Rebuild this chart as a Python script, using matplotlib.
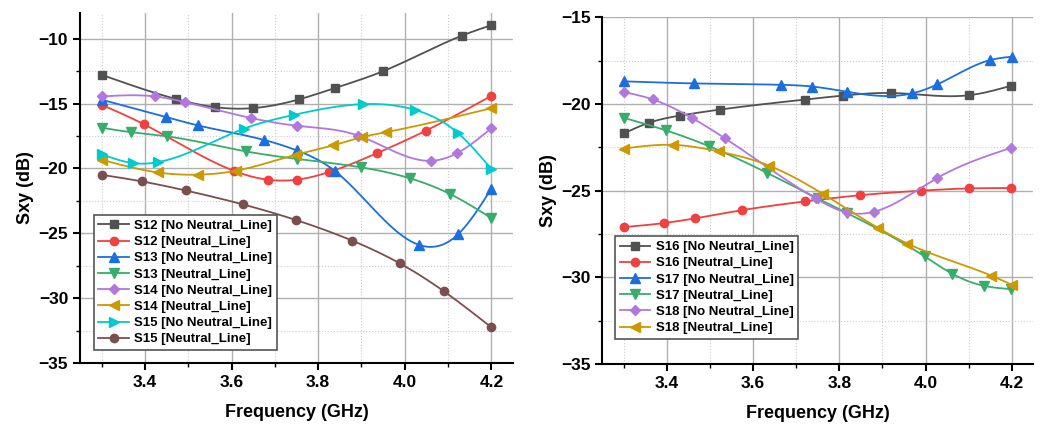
import matplotlib
matplotlib.use("Agg")
import matplotlib.pyplot as plt
import numpy as np
from matplotlib.ticker import MultipleLocator

plt.rcParams['font.family'] = ['Liberation Sans', 'DejaVu Sans']
plt.rcParams['font.weight'] = 'bold'

# ---- left panel data (S12..S15) ----
s12_no_x = [3.30, 3.472, 3.561, 3.649, 3.755, 3.838, 3.950, 4.131, 4.20]
s12_no_y = [-12.78, -14.65, -15.27, -15.35, -14.68, -13.81, -12.50, -9.77, -8.95]
s12_nl_x = [3.30, 3.398, 3.605, 3.684, 3.750, 3.825, 3.936, 4.048, 4.20]
s12_nl_y = [-15.09, -16.60, -20.18, -20.87, -20.87, -20.28, -18.82, -17.10, -14.40]
s13_no_x = [3.30, 3.449, 3.522, 3.676, 3.750, 3.838, 4.033, 4.123, 4.20]
s13_no_y = [-14.70, -16.04, -16.68, -17.81, -18.60, -20.18, -25.90, -25.08, -21.55]
s13_nl_x = [3.30, 3.367, 3.452, 3.634, 3.750, 3.900, 4.011, 4.105, 4.20]
s13_nl_y = [-16.86, -17.20, -17.53, -18.69, -19.26, -19.92, -20.75, -21.98, -23.83]
s14_no_x = [3.30, 3.424, 3.493, 3.646, 3.752, 3.892, 4.061, 4.121, 4.20]
s14_no_y = [-14.45, -14.45, -14.89, -16.12, -16.71, -17.46, -19.41, -18.82, -16.89]
s14_nl_x = [3.30, 3.430, 3.522, 3.610, 3.748, 3.834, 3.902, 3.957, 4.20]
s14_nl_y = [-19.33, -20.31, -20.48, -20.18, -18.95, -18.23, -17.58, -17.20, -15.35]
s15_no_x = [3.30, 3.373, 3.429, 3.628, 3.745, 3.904, 4.023, 4.123, 4.20]
s15_no_y = [-18.90, -19.59, -19.52, -16.94, -15.86, -15.04, -15.48, -17.28, -20.05]
s15_nl_x = [3.30, 3.393, 3.494, 3.627, 3.748, 3.878, 3.988, 4.091, 4.199]
s15_nl_y = [-20.49, -21.00, -21.70, -22.78, -23.97, -25.56, -27.31, -29.49, -32.23]

# ---- right panel data (S16..S18) ----
s16_no_x = [3.30, 3.358, 3.431, 3.522, 3.720, 3.809, 3.919, 4.101, 4.199]
s16_no_y = [-21.70, -21.09, -20.67, -20.33, -19.75, -19.52, -19.37, -19.50, -18.95]
s16_nl_x = [3.30, 3.392, 3.464, 3.575, 3.720, 3.849, 3.990, 4.101, 4.199]
s16_nl_y = [-27.10, -26.87, -26.60, -26.12, -25.62, -25.26, -25.00, -24.87, -24.85]
s17_no_x = [3.30, 3.462, 3.665, 3.737, 3.817, 3.968, 4.027, 4.149, 4.20]
s17_no_y = [-18.70, -18.82, -18.90, -19.00, -19.30, -19.40, -18.88, -17.48, -17.28]
s17_nl_x = [3.30, 3.398, 3.497, 3.631, 3.750, 3.818, 3.998, 4.062, 4.135, 4.199]
s17_nl_y = [-20.80, -21.53, -22.43, -23.96, -25.45, -26.29, -28.79, -29.79, -30.48, -30.67]
s18_no_x = [3.30, 3.367, 3.457, 3.535, 3.745, 3.817, 3.881, 4.027, 4.199]
s18_no_y = [-19.32, -19.74, -20.80, -21.99, -25.45, -26.25, -26.21, -24.27, -22.53]
s18_nl_x = [3.30, 3.414, 3.520, 3.637, 3.762, 3.890, 3.958, 4.153, 4.20]
s18_nl_y = [-22.57, -22.36, -22.74, -23.56, -25.19, -27.15, -28.05, -29.90, -30.42]

colors = ['#515151', '#F14040', '#1A6FDF', '#37AD6B', '#B177DE', '#CC9900', '#00CBCC', '#7D4E4E']
markers = ['s', 'o', '^', 'v', 'D', '<', '>', 'o']
msizes = [5.5, 6, 6.5, 6.5, 5, 6.5, 6.5, 6]


def smooth(x, y, n=200):
    # natural cubic spline through the points, only used to draw the line
    x = np.asarray(x, float)
    y = np.asarray(y, float)
    k = len(x)
    h = np.diff(x)
    A = np.zeros((k, k))
    b = np.zeros(k)
    A[0, 0] = A[-1, -1] = 1
    for i in range(1, k - 1):
        A[i, i - 1] = h[i - 1]
        A[i, i] = 2 * (h[i - 1] + h[i])
        A[i, i + 1] = h[i]
        b[i] = 6 * ((y[i + 1] - y[i]) / h[i] - (y[i] - y[i - 1]) / h[i - 1])
    m = np.linalg.solve(A, b)
    xs = np.linspace(x[0], x[-1], n)
    idx = np.clip(np.searchsorted(x, xs) - 1, 0, k - 2)
    x0, x1 = x[idx], x[idx + 1]
    hh = x1 - x0
    t0, t1 = x1 - xs, xs - x0
    ys = (m[idx] * t0 ** 3 + m[idx + 1] * t1 ** 3) / (6 * hh) \
        + (y[idx] / hh - m[idx] * hh / 6) * t0 + (y[idx + 1] / hh - m[idx + 1] * hh / 6) * t1
    return xs, ys


def draw_series(ax, x, y, label, color, marker, ms):
    xs, ys = smooth(x, y)
    ax.plot(xs, ys, '-', color=color, lw=1.3)
    ax.plot(x, y, linestyle='none', marker=marker, color=color, ms=ms)
    ax.plot([], [], '-', marker=marker, color=color, ms=ms, lw=1.3, label=label)


def style_axes(ax, ylim):
    ax.set_xlim(3.25, 4.25)
    ax.set_ylim(*ylim)
    ax.xaxis.set_major_locator(MultipleLocator(0.2))
    ax.xaxis.set_minor_locator(MultipleLocator(0.1))
    ax.yaxis.set_major_locator(MultipleLocator(5))
    ax.yaxis.set_minor_locator(MultipleLocator(2.5))
    ax.grid(True, which='major', color='#b0b0b0', lw=1.0)
    ax.grid(True, which='minor', color='#cccccc', lw=0.8, linestyle=':')
    ax.set_axisbelow(True)
    for s in ['top', 'right']:
        ax.spines[s].set_visible(False)
    for s in ['left', 'bottom']:
        ax.spines[s].set_linewidth(1.5)
    ax.tick_params(which='major', direction='out', length=5, width=1.5, labelsize=12.5)
    ax.tick_params(which='minor', direction='out', length=3, width=1.0)
    ax.set_xlabel('Frequency (GHz)', fontsize=13, fontweight='bold', labelpad=10)
    ax.set_ylabel('Sxy (dB)', fontsize=13, fontweight='bold', labelpad=3)
    for lbl in ax.get_xticklabels() + ax.get_yticklabels():
        lbl.set_fontweight('bold')


fig = plt.figure(figsize=(10.43, 4.28), dpi=100)
ax1 = fig.add_axes([0.0767, 0.152, 0.4152, 0.818])
ax2 = fig.add_axes([0.5775, 0.149, 0.4132, 0.811])

left_series = [
    (s12_no_x, s12_no_y, 'S12 [No Neutral_Line]'),
    (s12_nl_x, s12_nl_y, 'S12 [Neutral_Line]'),
    (s13_no_x, s13_no_y, 'S13 [No Neutral_Line]'),
    (s13_nl_x, s13_nl_y, 'S13 [Neutral_Line]'),
    (s14_no_x, s14_no_y, 'S14 [No Neutral_Line]'),
    (s14_nl_x, s14_nl_y, 'S14 [Neutral_Line]'),
    (s15_no_x, s15_no_y, 'S15 [No Neutral_Line]'),
    (s15_nl_x, s15_nl_y, 'S15 [Neutral_Line]'),
]
right_series = [
    (s16_no_x, s16_no_y, 'S16 [No Neutral_Line]'),
    (s16_nl_x, s16_nl_y, 'S16 [Neutral_Line]'),
    (s17_no_x, s17_no_y, 'S17 [No Neutral_Line]'),
    (s17_nl_x, s17_nl_y, 'S17 [Neutral_Line]'),
    (s18_no_x, s18_no_y, 'S18 [No Neutral_Line]'),
    (s18_nl_x, s18_nl_y, 'S18 [Neutral_Line]'),
]

for i, (x, y, lab) in enumerate(left_series):
    draw_series(ax1, x, y, lab, colors[i], markers[i], msizes[i])
for i, (x, y, lab) in enumerate(right_series):
    draw_series(ax2, x, y, lab, colors[i], markers[i], msizes[i])

style_axes(ax1, (-35, -8))
style_axes(ax2, (-35, -15))

for ax, anchor in [(ax1, (0.032, 0.037)), (ax2, (0.03, 0.073))]:
    leg = ax.legend(loc='lower left', bbox_to_anchor=anchor,
                    prop={'weight': 'bold', 'size': 9.5}, fancybox=False,
                    edgecolor='#555555', framealpha=1, labelspacing=0.3,
                    handlelength=2.3, handletextpad=0.4, borderpad=0.35,
                    borderaxespad=0)
    leg.get_frame().set_linewidth(1.2)

fig.savefig('out.png', dpi=100)
